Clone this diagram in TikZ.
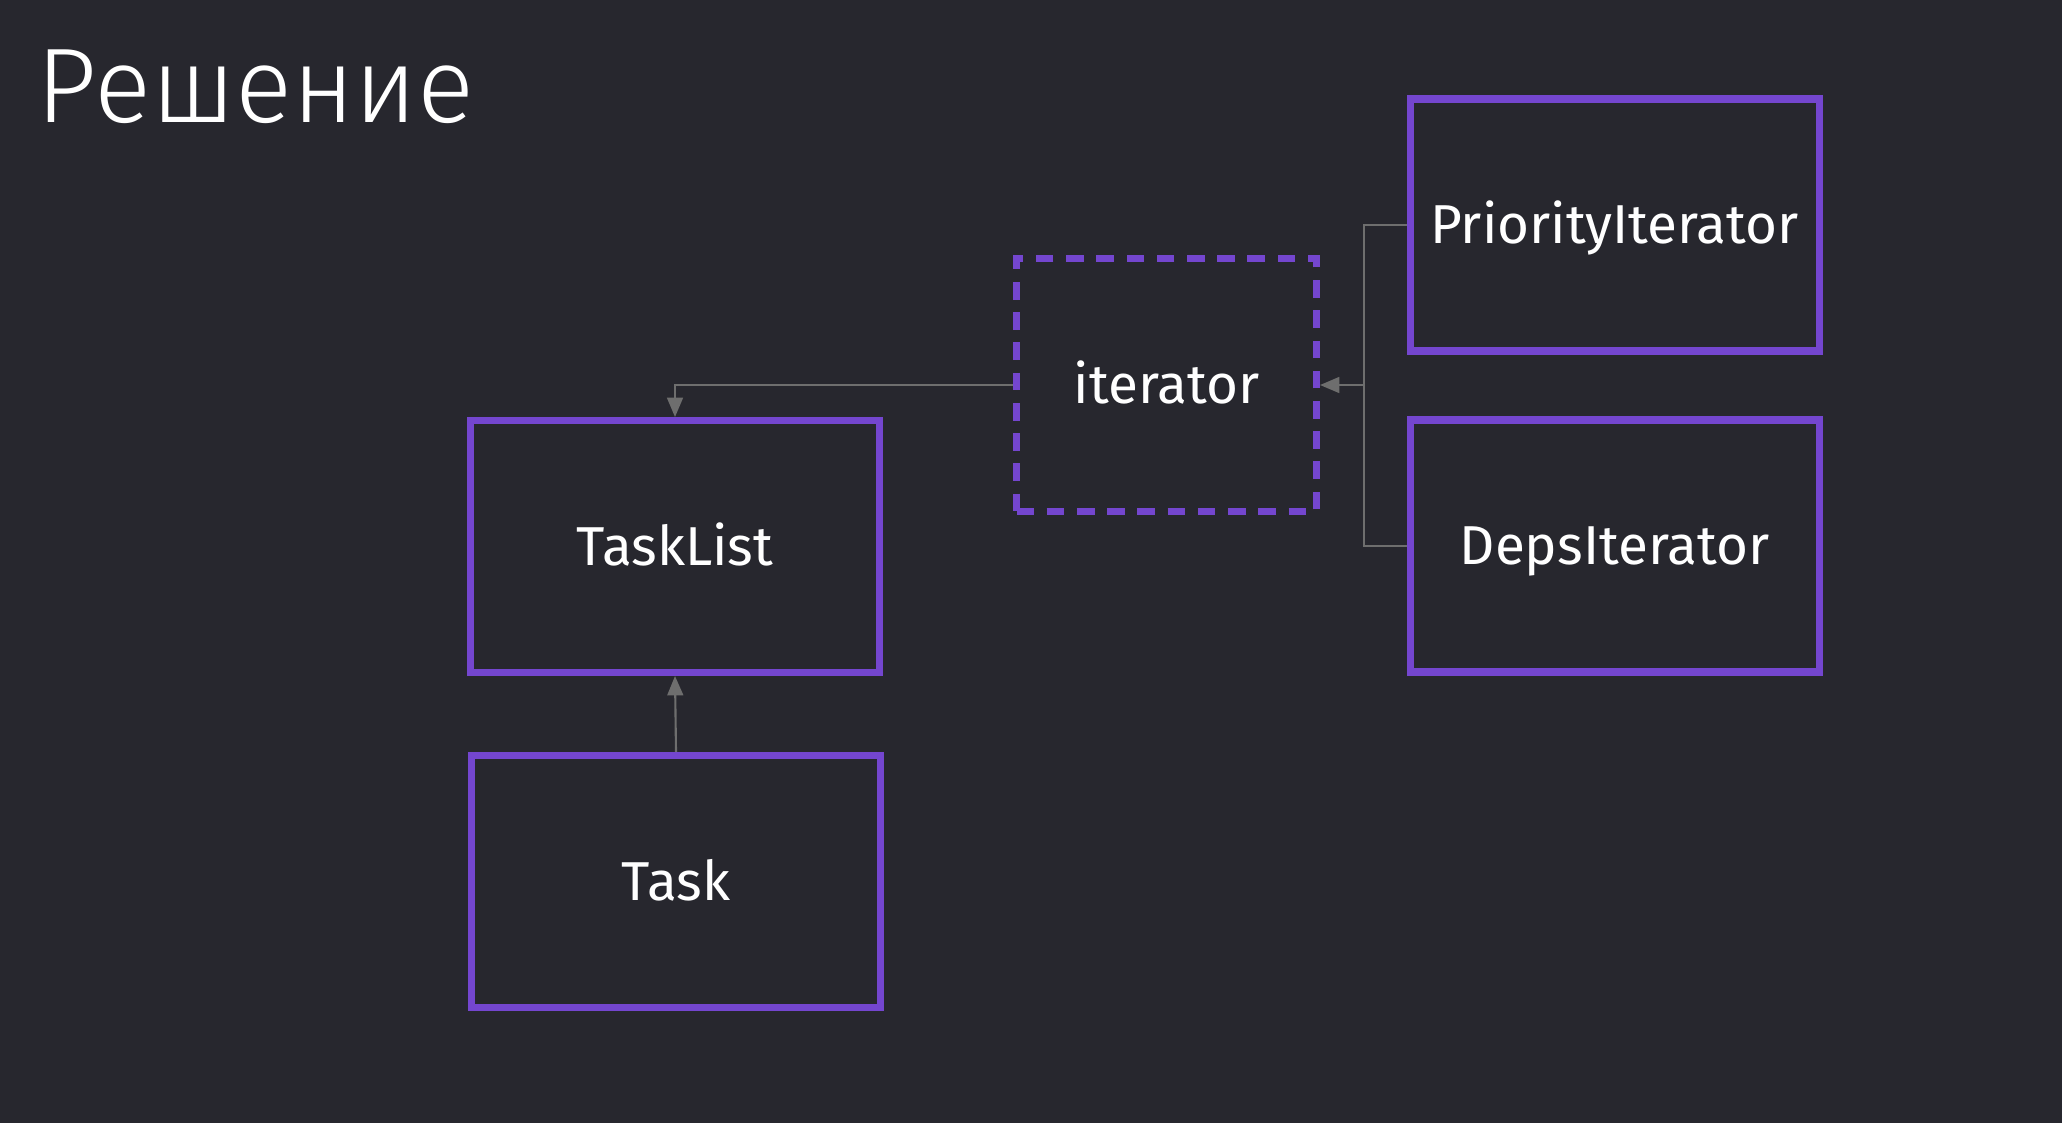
\documentclass[tikz,border=0pt]{standalone}
\usepackage{fontspec}
\setmainfont{Fira Sans}
\newfontfamily\titlefont{Fira Sans Light}
\usetikzlibrary{arrows.meta}
\definecolor{bgdark}{HTML}{27272E}
\definecolor{boxpurple}{HTML}{7446CF}
\definecolor{linegray}{HTML}{6E6E6E}
\begin{document}
\begin{tikzpicture}[
    box/.style={draw=boxpurple, line width=2pt, minimum width=4.09cm, minimum height=2.52cm, text=white, text height=10.7pt, text depth=0pt, font=\fontsize{15.6}{18}\selectfont},
    ifacebox/.style={box, dash pattern=on 5pt off 3.6pt, minimum width=3.00cm, minimum height=2.53cm},
    link/.style={draw=linegray, line width=0.6pt},
    arrowlink/.style={link, -{Triangle[length=5.5pt, width=4.5pt]}}
  ]
    \fill[bgdark] (0,0) rectangle (20.62,-11.23);

    \node[anchor=base west, inner sep=0, text=white, font=\titlefont\fontsize{30.2}{35}\selectfont] (title) at (0.36,-1.22) {Решение};

    \node[box] (tasklist) at (6.75,-5.465) {TaskList};
    \node[box] (task) at (6.76,-8.815) {Task};
    \node[ifacebox] (iterator) at (11.665,-3.85) {iterator};
    \node[box] (prio) at (16.145,-2.25) {PriorityIterator};
    \node[box] (deps) at (16.145,-5.46) {DepsIterator};

    \coordinate (join) at (13.64,-3.85);

    \draw[arrowlink] (iterator.west) -| (tasklist.north);
    \draw[arrowlink] (task.north) -- (tasklist.south);
    \draw[link] (prio.west) -| (join);
    \draw[link] (deps.west) -| (join);
    \draw[arrowlink] (join) -- (iterator.east);
\end{tikzpicture}
\end{document}
